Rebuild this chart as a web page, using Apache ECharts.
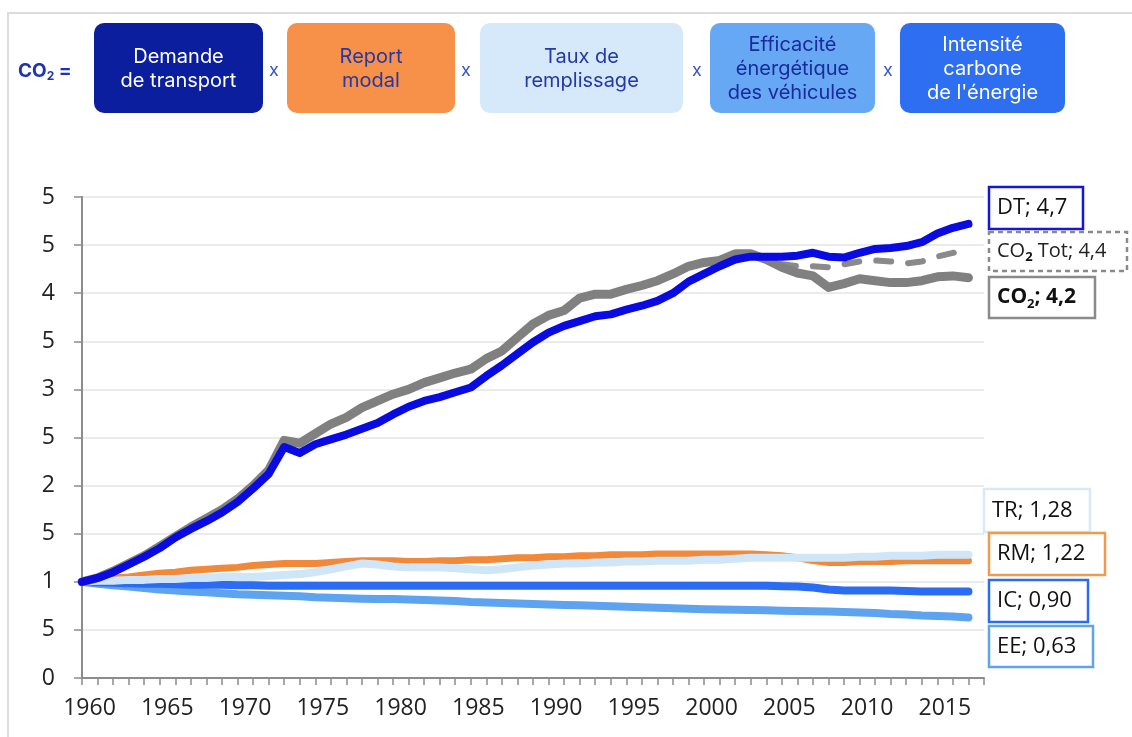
<!DOCTYPE html>
<html>
<head>
<meta charset="utf-8">
<script src="https://cdn.jsdelivr.net/npm/echarts@6/dist/echarts.min.js"></script>
<style>
  html, body { margin: 0; background: #fff; }
  #chart { width: 1132px; height: 737px; }
</style>
</head>
<body>
<div id="chart"></div>
<script>
// années 1960 -> 2017
const firstYear = 1960;

// DT : demande de transport
const dt = [
  1.00, 1.04, 1.10, 1.18, 1.26, 1.35, 1.46, 1.55, 1.63, 1.72,
  1.83, 1.97, 2.12, 2.40, 2.34, 2.43, 2.48, 2.53, 2.59, 2.65,
  2.74, 2.82, 2.88, 2.92, 2.97, 3.02, 3.14, 3.25, 3.37, 3.49,
  3.59, 3.66, 3.71, 3.76, 3.78, 3.83, 3.87, 3.92, 4.00, 4.12,
  4.20, 4.28, 4.35, 4.38, 4.38, 4.38, 4.39, 4.42, 4.38, 4.37,
  4.42, 4.46, 4.47, 4.49, 4.53, 4.62, 4.68, 4.72
];
// CO2
const co2 = [
  1.00, 1.04, 1.11, 1.19, 1.27, 1.37, 1.47, 1.57, 1.66, 1.75,
  1.86, 2.00, 2.16, 2.47, 2.44, 2.54, 2.64, 2.71, 2.81, 2.88,
  2.95, 3.00, 3.07, 3.12, 3.17, 3.21, 3.32, 3.40, 3.54, 3.68,
  3.77, 3.82, 3.95, 3.99, 3.99, 4.04, 4.08, 4.13, 4.20, 4.28,
  4.32, 4.34, 4.41, 4.41, 4.35, 4.27, 4.21, 4.18, 4.06, 4.10,
  4.15, 4.13, 4.11, 4.11, 4.13, 4.17, 4.18, 4.16
];
// CO2 Tot (à partir de 2003)
const co2TotStart = 2003;
const co2Tot = [4.41, 4.35, 4.30, 4.28, 4.28, 4.27, 4.30, 4.33, 4.34, 4.33, 4.31, 4.33, 4.38, 4.42, 4.44];
// RM : report modal
const rm = [
  1.00, 1.02, 1.04, 1.05, 1.07, 1.09, 1.10, 1.12, 1.13, 1.14,
  1.15, 1.17, 1.18, 1.19, 1.19, 1.19, 1.20, 1.21, 1.22, 1.22,
  1.22, 1.21, 1.21, 1.22, 1.22, 1.23, 1.23, 1.24, 1.25, 1.25,
  1.26, 1.26, 1.27, 1.27, 1.28, 1.28, 1.28, 1.29, 1.29, 1.29,
  1.29, 1.29, 1.29, 1.29, 1.28, 1.27, 1.25, 1.22, 1.20, 1.20,
  1.21, 1.21, 1.21, 1.22, 1.22, 1.22, 1.22, 1.22
];
// TR : taux de remplissage
const tr = [
  1.00, 1.01, 1.01, 1.02, 1.02, 1.03, 1.03, 1.04, 1.04, 1.05,
  1.05, 1.05, 1.06, 1.07, 1.08, 1.10, 1.13, 1.16, 1.19, 1.18,
  1.16, 1.15, 1.15, 1.15, 1.14, 1.13, 1.12, 1.13, 1.15, 1.17,
  1.18, 1.19, 1.19, 1.20, 1.20, 1.21, 1.21, 1.22, 1.22, 1.22,
  1.23, 1.23, 1.24, 1.25, 1.25, 1.25, 1.25, 1.25, 1.25, 1.25,
  1.26, 1.26, 1.27, 1.27, 1.27, 1.28, 1.28, 1.28
];
// IC : intensité carbone
const ic = [
  1.00, 0.995, 0.99, 0.985, 0.98, 0.98, 0.975, 0.97, 0.97, 0.97,
  0.965, 0.965, 0.96, 0.96, 0.96, 0.96, 0.96, 0.96, 0.96, 0.96,
  0.96, 0.96, 0.96, 0.96, 0.96, 0.96, 0.96, 0.96, 0.96, 0.96,
  0.96, 0.96, 0.96, 0.96, 0.96, 0.96, 0.96, 0.96, 0.96, 0.96,
  0.96, 0.96, 0.96, 0.96, 0.96, 0.955, 0.95, 0.94, 0.92, 0.91,
  0.91, 0.91, 0.91, 0.905, 0.90, 0.90, 0.90, 0.90
];
// EE : efficacité énergétique
const ee = [
  1.00, 0.98, 0.965, 0.95, 0.935, 0.92, 0.91, 0.90, 0.89, 0.88,
  0.87, 0.865, 0.86, 0.855, 0.85, 0.84, 0.835, 0.83, 0.825, 0.82,
  0.82, 0.815, 0.81, 0.805, 0.80, 0.79, 0.785, 0.78, 0.775, 0.77,
  0.765, 0.76, 0.755, 0.75, 0.745, 0.74, 0.735, 0.73, 0.725, 0.72,
  0.715, 0.712, 0.71, 0.707, 0.703, 0.70, 0.697, 0.693, 0.69, 0.685,
  0.68, 0.675, 0.665, 0.66, 0.65, 0.645, 0.64, 0.63
];

const yTickLabels = ['0', '5', '1', '5', '2', '5', '3', '5', '4', '5', '5'];

const toPairs = (arr, start) => arr.map((v, i) => [start + i, v]);

const FONT = '"Open Sans", sans-serif';
const HFONT = 'Inter, "Noto Sans", sans-serif';

const chart = echarts.init(document.getElementById('chart'), null, { renderer: 'canvas' });

function line(name, data, color, width, z, dash) {
  return {
    name: name,
    type: 'line',
    data: data,
    showSymbol: false,
    symbol: 'none',
    z: z,
    silent: true,
    lineStyle: { color: color, width: width, cap: 'round', join: 'round', type: dash || 'solid' }
  };
}

// bandeau du haut
const boxes = [
  { x: 94, w: 169, fill: '#0B1F9E', color: '#fff', text: 'Demande\nde transport' },
  { x: 287, w: 168, fill: '#F7914A', color: '#2637A6', text: 'Report\nmodal' },
  { x: 480, w: 203, fill: '#D5E9FB', color: '#2637A6', text: 'Taux de\nremplissage' },
  { x: 710, w: 165, fill: '#67A8F4', color: '#1A2B9C', text: 'Efficacité\nénergétique\ndes véhicules' },
  { x: 900, w: 165, fill: '#2E6FF2', color: '#fff', text: 'Intensité\ncarbone\nde l\'énergie' }
];
const crosses = [274, 466, 697, 888];

const header = [];
boxes.forEach(b => {
  header.push({
    type: 'rect', silent: true,
    shape: { x: b.x, y: 23, width: b.w, height: 90, r: 10 },
    style: { fill: b.fill }
  });
  header.push({
    type: 'text', silent: true,
    style: {
      text: b.text, x: b.x + b.w / 2, y: 69,
      textAlign: 'center', textVerticalAlign: 'middle',
      fill: b.color, font: '20px ' + HFONT, lineHeight: 24
    }
  });
});
crosses.forEach(x => header.push({
  type: 'text', silent: true,
  style: { text: 'x', x: x, y: 71, textAlign: 'center', textVerticalAlign: 'middle', fill: '#3B52C4', font: '18px ' + HFONT }
}));
header.push({
  type: 'text', silent: true,
  style: {
    text: '{b|CO}{s|2}{b| =}', x: 18, y: 71, textVerticalAlign: 'middle',
    rich: {
      b: { fontFamily: HFONT, fontSize: 19, fontWeight: 'bold', fill: '#1F34B0', lineHeight: 23 },
      s: { fontFamily: HFONT, fontSize: 12, fontWeight: 'bold', fill: '#1F34B0', lineHeight: 14, verticalAlign: 'bottom' }
    }
  }
});

// étiquettes de fin de courbe
const tags = [
  { x: 989, y: 187, w: 94, h: 42, stroke: '#1515E0', dash: null, text: '{n|DT; 4,7}' },
  { x: 989, y: 232, w: 138, h: 39, stroke: '#8A8A8A', dash: [5, 4], text: '{m|CO}{sb|2}{m| Tot; 4,4}' },
  { x: 989, y: 277, w: 106, h: 41, stroke: '#8A8A8A', dash: null, text: '{nb|CO}{sb|2}{nb|; 4,2}' },
  { x: 984, y: 489, w: 106, h: 43, stroke: '#D6EAF8', dash: null, text: '{n|TR; 1,28}' },
  { x: 989, y: 533, w: 116, h: 42, stroke: '#F09A50', dash: null, text: '{n|RM; 1,22}' },
  { x: 989, y: 580, w: 99, h: 42, stroke: '#2B6CF2', dash: null, text: '{n|IC; 0,90}' },
  { x: 989, y: 626, w: 104, h: 41, stroke: '#5EA3F0', dash: null, text: '{n|EE; 0,63}' }
];
const tagRich = {
  n: { fontFamily: FONT, fontSize: 22, fill: '#111', lineHeight: 26 },
  m: { fontFamily: FONT, fontSize: 20, fill: '#222', lineHeight: 24 },
  nb: { fontFamily: FONT, fontSize: 21, fontWeight: 'bold', fill: '#111', lineHeight: 26 },
  sb: { fontFamily: FONT, fontSize: 13, fontWeight: 'bold', fill: '#111', lineHeight: 16, verticalAlign: 'bottom' }
};
const tagEls = [];
tags.forEach(t => {
  tagEls.push({
    type: 'rect', silent: true, z: 10,
    shape: { x: t.x, y: t.y, width: t.w, height: t.h },
    style: { fill: '#fff', stroke: t.stroke, lineWidth: 2.5, lineDash: t.dash }
  });
  tagEls.push({
    type: 'text', silent: true, z: 11,
    style: { text: t.text, x: t.x + 8, y: t.y + t.h / 2, textVerticalAlign: 'middle', rich: tagRich }
  });
});

const option = {
  backgroundColor: '#fff',
  animation: false,
  grid: { left: 82, top: 197, width: 902, height: 481 },
  xAxis: {
    type: 'value',
    min: 1960,
    max: 2018,
    interval: 1,
    axisLine: { show: true, lineStyle: { color: '#8C8C8C', width: 2 } },
    axisTick: { show: true, length: 7, lineStyle: { color: '#8C8C8C', width: 1.5 } },
    splitLine: { show: false },
    axisLabel: {
      margin: 19,
      padding: [0, 0, 0, 15],
      fontFamily: FONT, fontSize: 23, color: '#222',
      formatter: v => (v % 5 === 0 && v <= 2015) ? String(v) : ''
    }
  },
  yAxis: {
    type: 'value',
    min: 0,
    max: 5,
    interval: 0.5,
    axisLine: { show: true, lineStyle: { color: '#8C8C8C', width: 2 } },
    axisTick: { show: true, inside: false, length: 8, lineStyle: { color: '#8C8C8C', width: 1.5 } },
    splitLine: { show: true, lineStyle: { color: '#EBEBEB', width: 2 } },
    axisLabel: {
      margin: 27,
      fontFamily: FONT, fontSize: 23, color: '#222',
      formatter: v => yTickLabels[Math.round(v / 0.5)]
    }
  },
  series: [
    line('EE', toPairs(ee, firstYear), '#5EA3F0', 8, 2),
    line('IC', toPairs(ic, firstYear), '#2B6CF2', 8, 3),
    line('RM', toPairs(rm, firstYear), '#F0893A', 7, 4),
    line('TR', toPairs(tr, firstYear), '#CFE6F8', 8, 5),
    line('CO2 Tot', toPairs(co2Tot, co2TotStart), '#8A8A8A', 6, 6, [15, 17]),
    line('CO2', toPairs(co2, firstYear), '#808080', 9, 7),
    line('DT', toPairs(dt, firstYear), '#0A0AE2', 8, 8)
  ],
  graphic: [
    {
      type: 'polyline', silent: true, z: 0,
      shape: { points: [[8, 737], [8, 13], [1132, 13]] },
      style: { stroke: '#DCDCDC', lineWidth: 2, fill: null }
    }
  ].concat(header, tagEls)
};

chart.setOption(option);
</script>
</body>
</html>
